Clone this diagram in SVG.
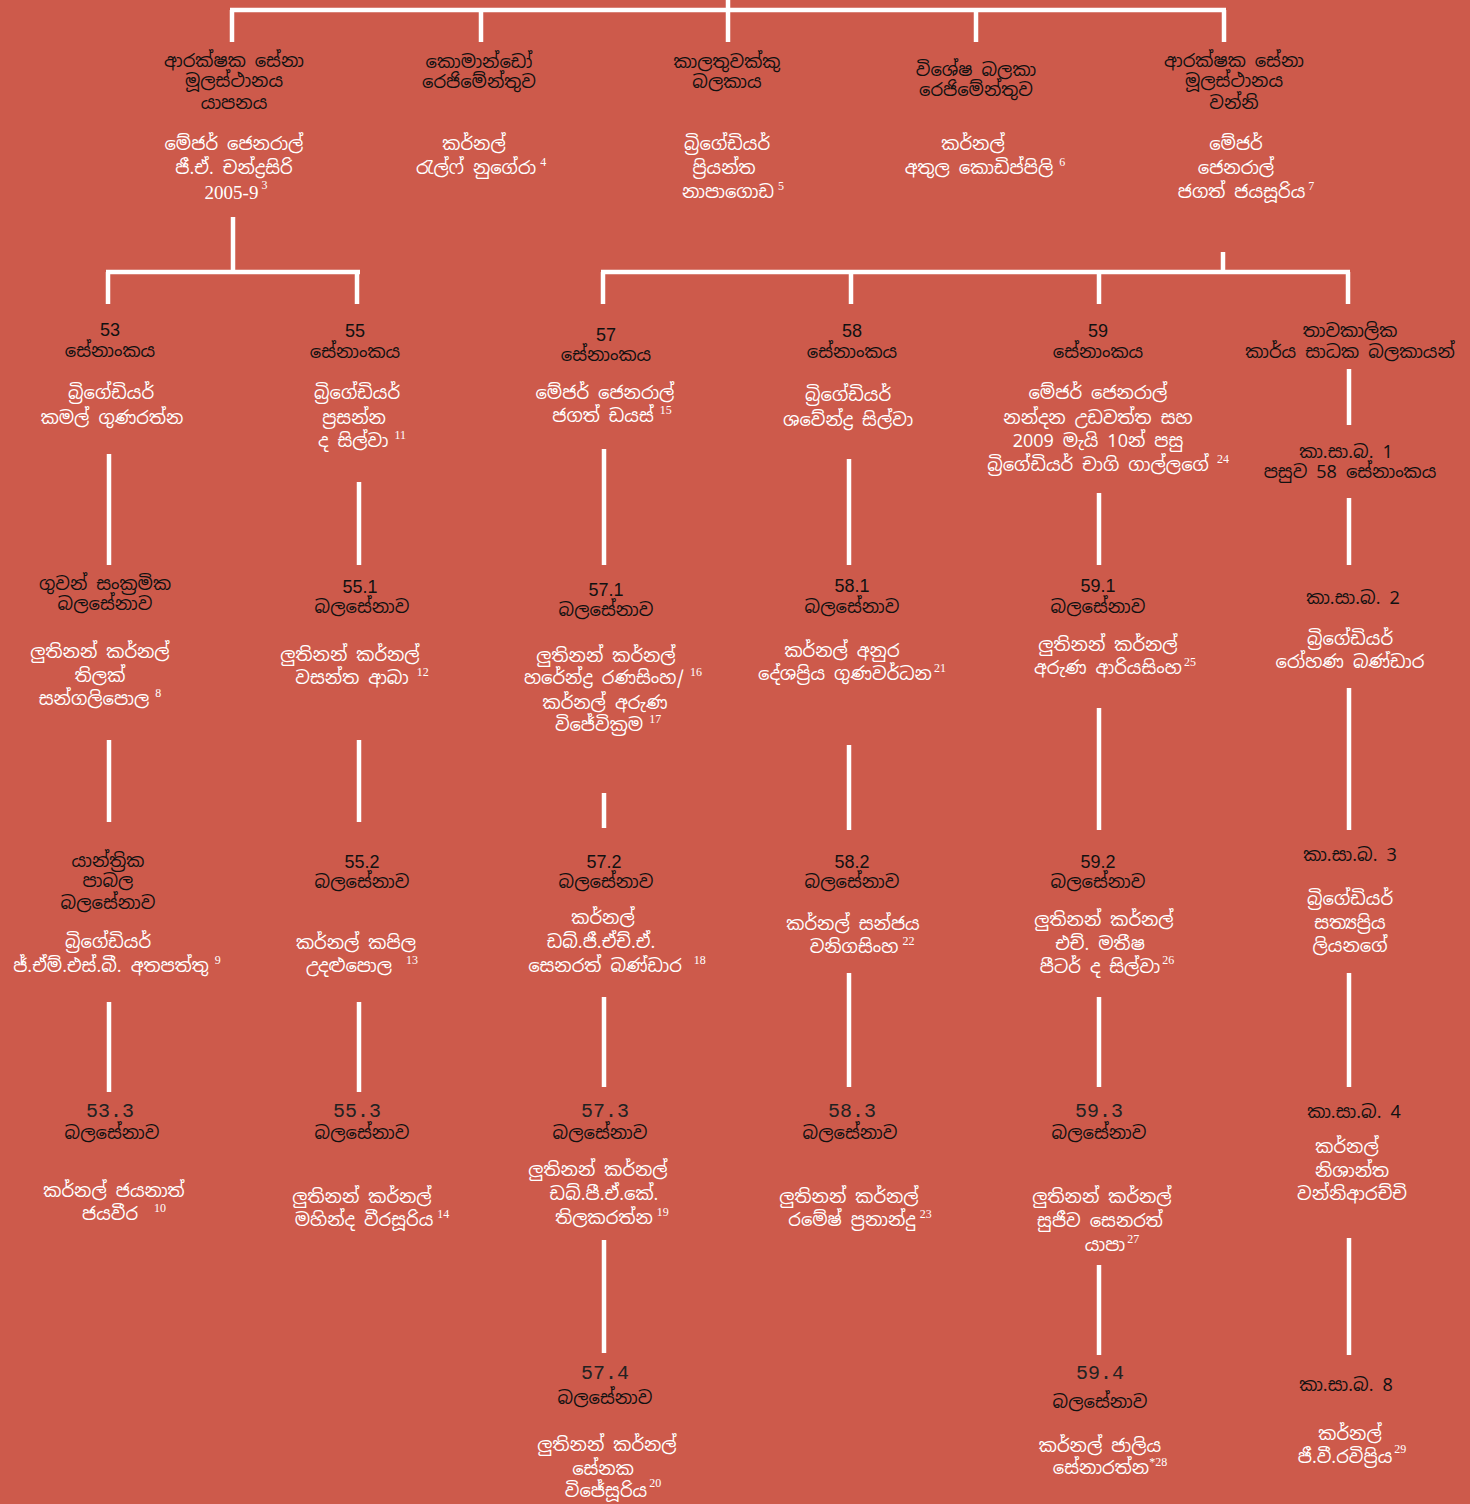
<svg xmlns="http://www.w3.org/2000/svg" width="1470" height="1504" viewBox="0 0 1470 1504">
<style>
text{text-anchor:middle;font-family:"Noto Sans Sinhala","Noto Sans","DejaVu Sans",sans-serif;font-size:18px}
.b{fill:#111}
.w{fill:#fff}
.n{fill:#111;font-family:"Liberation Sans",Arial,sans-serif;font-size:18px}
.m{fill:#222;font-family:"Liberation Mono","DejaVu Sans Mono",monospace;font-size:20px}
.y{fill:#fff;font-family:"Liberation Serif","Times New Roman",serif;font-size:19px}
.s{font-family:"Liberation Serif","Times New Roman",serif;font-size:12px}
#conn line{stroke:#fff;stroke-width:4.5;fill:none}
</style>
<rect width="1470" height="1504" fill="#cd5a4b"/>
<g id="conn">
<line x1="728" y1="0" x2="728" y2="10"/>
<line x1="230" y1="10" x2="1226" y2="10"/>
<line x1="232" y1="10" x2="232" y2="42"/>
<line x1="481" y1="10" x2="481" y2="42"/>
<line x1="728" y1="10" x2="728" y2="42"/>
<line x1="976" y1="10" x2="976" y2="42"/>
<line x1="1224" y1="10" x2="1224" y2="42"/>
<line x1="233" y1="217" x2="233" y2="272"/>
<line x1="106" y1="272" x2="360" y2="272"/>
<line x1="108" y1="272" x2="108" y2="304"/>
<line x1="357" y1="272" x2="357" y2="304"/>
<line x1="1223" y1="252" x2="1223" y2="272"/>
<line x1="601" y1="272" x2="1350" y2="272"/>
<line x1="603" y1="272" x2="603" y2="304"/>
<line x1="851" y1="272" x2="851" y2="304"/>
<line x1="1099" y1="272" x2="1099" y2="304"/>
<line x1="1348" y1="272" x2="1348" y2="304"/>
<line x1="109" y1="454" x2="109" y2="565"/>
<line x1="109" y1="740" x2="109" y2="822"/>
<line x1="109" y1="1002" x2="109" y2="1092"/>
<line x1="359" y1="482" x2="359" y2="565"/>
<line x1="359" y1="740" x2="359" y2="822"/>
<line x1="359" y1="1002" x2="359" y2="1092"/>
<line x1="604" y1="449" x2="604" y2="565"/>
<line x1="604" y1="793" x2="604" y2="828"/>
<line x1="604" y1="997" x2="604" y2="1087"/>
<line x1="604" y1="1240" x2="604" y2="1353"/>
<line x1="849" y1="459" x2="849" y2="565"/>
<line x1="849" y1="745" x2="849" y2="830"/>
<line x1="849" y1="973" x2="849" y2="1087"/>
<line x1="1099" y1="493" x2="1099" y2="565"/>
<line x1="1099" y1="708" x2="1099" y2="830"/>
<line x1="1099" y1="997" x2="1099" y2="1087"/>
<line x1="1099" y1="1265" x2="1099" y2="1355"/>
<line x1="1349" y1="369" x2="1349" y2="425"/>
<line x1="1349" y1="498" x2="1349" y2="565"/>
<line x1="1349" y1="688" x2="1349" y2="830"/>
<line x1="1349" y1="973" x2="1349" y2="1087"/>
<line x1="1349" y1="1238" x2="1349" y2="1355"/>
</g>

<g id="hq-jaffna">
<text class="b"><tspan x="234" y="67">ආරක්ෂක සේනා</tspan><tspan x="234" y="87">මූලස්ථානය</tspan><tspan x="234" y="109">යාපනය</tspan></text>
<text class="w"><tspan x="234" y="150">මේජර් ජෙනරාල්</tspan><tspan x="234" y="174">ජී.ඒ. චන්ද්‍රසිරි</tspan></text>
<text class="y" x="236" y="199">2005-9<tspan class="s" dx="3" dy="-10">3</tspan></text>
</g>
<g id="commando">
<text class="b"><tspan x="479" y="68">කොමාන්ඩෝ</tspan><tspan x="479" y="88">රෙජිමේන්තුව</tspan></text>
<text class="w"><tspan x="474" y="150">කර්නල්</tspan><tspan x="481" y="174">රැල්ෆ් නුගේරා<tspan class="s" dx="4" dy="-8">4</tspan></tspan></text>
</g>
<g id="artillery">
<text class="b"><tspan x="727" y="68">කාලතුවක්කු</tspan><tspan x="727" y="88">බලකාය</tspan></text>
<text class="w"><tspan x="727" y="150">බ්‍රිගේඩියර්</tspan><tspan x="724" y="174">ප්‍රියන්ත</tspan><tspan x="733" y="198">නාපාගොඩ<tspan class="s" dx="4" dy="-8">5</tspan></tspan></text>
</g>
<g id="special-forces">
<text class="b"><tspan x="976" y="76">විශේෂ බලකා</tspan><tspan x="976" y="96">රෙජිමේන්තුව</tspan></text>
<text class="w"><tspan x="973" y="150">කර්නල්</tspan><tspan x="985" y="174">අතුල කොඩිප්පිලි<tspan class="s" dx="6" dy="-8">6</tspan></tspan></text>
</g>
<g id="hq-wanni">
<text class="b"><tspan x="1234" y="67">ආරක්ෂක සේනා</tspan><tspan x="1234" y="87">මූලස්ථානය</tspan><tspan x="1234" y="109">වන්නි</tspan></text>
<text class="w"><tspan x="1236" y="150">මේජර්</tspan><tspan x="1236" y="174">ජෙනරාල්</tspan><tspan x="1246" y="198">ජගත් ජයසූරිය<tspan class="s" dx="3" dy="-8">7</tspan></tspan></text>
</g>

<g id="div53">
<text class="n" x="110" y="336">53</text>
<text class="b" x="110" y="357">සේනාංකය</text>
<text class="w"><tspan x="111" y="399">බ්‍රිගේඩියර්</tspan><tspan x="112" y="424">කමල් ගුණරත්න</tspan></text>
</g>
<g id="div55">
<text class="n" x="355" y="337">55</text>
<text class="b" x="355" y="358">සේනාංකය</text>
<text class="w"><tspan x="357" y="399">බ්‍රිගේඩියර්</tspan><tspan x="354" y="424">ප්‍රසන්න</tspan><tspan x="362" y="447">ද සිල්වා<tspan class="s" dx="6" dy="-8">11</tspan></tspan></text>
</g>
<g id="div57">
<text class="n" x="606" y="341">57</text>
<text class="b" x="606" y="361">සේනාංකය</text>
<text class="w"><tspan x="605" y="399">මේජර් ජෙනරාල්</tspan><tspan x="612" y="422">ජගත් ඩයස්<tspan class="s" dx="6" dy="-8">15</tspan></tspan></text>
</g>
<g id="div58">
<text class="n" x="852" y="337">58</text>
<text class="b" x="852" y="358">සේනාංකය</text>
<text class="w"><tspan x="848" y="401">බ්‍රිගේඩියර්</tspan><tspan x="848" y="426">ශවේන්ද්‍ර සිල්වා</tspan></text>
</g>
<g id="div59">
<text class="n" x="1098" y="337">59</text>
<text class="b" x="1098" y="358">සේනාංකය</text>
<text class="w"><tspan x="1098" y="399">මේජර් ජෙනරාල්</tspan><tspan x="1098" y="424">නන්දන උඩවත්ත සහ</tspan><tspan x="1098" y="447">2009 මැයි 10න් පසු</tspan><tspan x="1108" y="471">බ්‍රිගේඩියර් චාගි ගාල්ලගේ<tspan class="s" dx="8" dy="-8">24</tspan></tspan></text>
</g>
<g id="task-forces">
<text class="b"><tspan x="1350" y="337">තාවකාලික</tspan><tspan x="1350" y="358">කාර්ය සාධක බලකායන්</tspan></text>
</g>
<g id="tf1">
<text class="b"><tspan x="1346" y="458">කා.සා.බ. 1</tspan><tspan x="1350" y="478">පසුව 58 සේනාංකය</tspan></text>
</g>

<g id="bde-air">
<text class="b"><tspan x="105" y="590">ගුවන් සංක්‍රමික</tspan><tspan x="105" y="610">බලසේනාව</tspan></text>
<text class="w"><tspan x="100" y="658">ලුතිනන් කර්නල්</tspan><tspan x="100" y="682">තිලක්</tspan><tspan x="100" y="705">සන්ගලිපොල<tspan class="s" dx="6" dy="-8">8</tspan></tspan></text>
</g>
<g id="bde551">
<text class="n" x="360" y="593">55.1</text>
<text class="b" x="362" y="613">බලසේනාව</text>
<text class="w"><tspan x="350" y="661">ලුතිනන් කර්නල්</tspan><tspan x="362" y="684">වසන්ත ආබා<tspan class="s" dx="8" dy="-8">12</tspan></tspan></text>
</g>
<g id="bde571">
<text class="n" x="606" y="596">57.1</text>
<text class="b" x="606" y="616">බලසේනාව</text>
<text class="w"><tspan x="606" y="662">ලුතිනන් කර්නල්</tspan><tspan x="613" y="684">හරේන්ද්‍ර රණසිංහ/<tspan class="s" dx="6" dy="-8">16</tspan></tspan><tspan x="605" y="709">කර්නල් අරුණ</tspan><tspan x="608" y="731">විජේවික්‍රම<tspan class="s" dx="6" dy="-8">17</tspan></tspan></text>
</g>
<g id="bde581">
<text class="n" x="852" y="592">58.1</text>
<text class="b" x="852" y="613">බලසේනාව</text>
<text class="w"><tspan x="842" y="657">කර්නල් අනුර</tspan><tspan x="852" y="680">දේශප්‍රිය ගුණවර්ධන<tspan class="s" dx="2" dy="-8">21</tspan></tspan></text>
</g>
<g id="bde591">
<text class="n" x="1098" y="592">59.1</text>
<text class="b" x="1098" y="613">බලසේනාව</text>
<text class="w"><tspan x="1108" y="651">ලුතිනන් කර්නල්</tspan><tspan x="1115" y="674">අරුණ ආරියසිංහ<tspan class="s" dx="2" dy="-8">25</tspan></tspan></text>
</g>
<g id="tf2">
<text class="b" x="1353" y="604">කා.සා.බ. 2</text>
<text class="w"><tspan x="1350" y="645">බ්‍රිගේඩියර්</tspan><tspan x="1350" y="668">රෝහණ බණ්ඩාර</tspan></text>
</g>

<g id="bde-mech">
<text class="b"><tspan x="108" y="867">යාන්ත්‍රික</tspan><tspan x="108" y="887">පාබල</tspan><tspan x="108" y="909">බලසේනාව</tspan></text>
<text class="w"><tspan x="108" y="948">බ්‍රිගේඩියර්</tspan><tspan x="117" y="972">ජ්.ඒම්.එස්.බී. අතපත්තු<tspan class="s" dx="6" dy="-8">9</tspan></tspan></text>
</g>
<g id="bde552">
<text class="n" x="362" y="868">55.2</text>
<text class="b" x="362" y="888">බලසේනාව</text>
<text class="w"><tspan x="356" y="949">කර්නල් කපිල</tspan><tspan x="362" y="972">උදළුපොල<tspan class="s" dx="14" dy="-8">13</tspan></tspan></text>
</g>
<g id="bde572">
<text class="n" x="604" y="868">57.2</text>
<text class="b" x="606" y="888">බලසේනාව</text>
<text class="w"><tspan x="603" y="924">කර්නල්</tspan><tspan x="601" y="948">ඩබ්.ජී.ඒච්.ඒ.</tspan><tspan x="617" y="972">සෙනරත් බණ්ඩාර<tspan class="s" dx="12" dy="-8">18</tspan></tspan></text>
</g>
<g id="bde582">
<text class="n" x="852" y="868">58.2</text>
<text class="b" x="852" y="888">බලසේනාව</text>
<text class="w"><tspan x="853" y="930">කර්නල් සන්ජය</tspan><tspan x="862" y="953">වනිගසිංහ<tspan class="s" dx="4" dy="-8">22</tspan></tspan></text>
</g>
<g id="bde592">
<text class="n" x="1098" y="868">59.2</text>
<text class="b" x="1098" y="888">බලසේනාව</text>
<text class="w"><tspan x="1104" y="926">ලුතිනන් කර්නල්</tspan><tspan x="1100" y="950">එච්. මතීෂ</tspan><tspan x="1107" y="973">පීටර් ද සිල්වා<tspan class="s" dx="2" dy="-9">26</tspan></tspan></text>
</g>
<g id="tf3">
<text class="b" x="1350" y="861">කා.සා.බ. 3</text>
<text class="w"><tspan x="1350" y="905">බ්‍රිගේඩියර්</tspan><tspan x="1350" y="929">සත්‍යප්‍රිය</tspan><tspan x="1350" y="952">ලියනගේ</tspan></text>
</g>

<g id="bde533">
<text class="m" x="110" y="1117">53.3</text>
<text class="b" x="112" y="1139">බලසේනාව</text>
<text class="w"><tspan x="114" y="1197">කර්නල් ජයනාත්</tspan><tspan x="124" y="1220">ජයවීර<tspan class="s" dx="16" dy="-8">10</tspan></tspan></text>
</g>
<g id="bde553">
<text class="m" x="357" y="1117">55.3</text>
<text class="b" x="362" y="1139">බලසේනාව</text>
<text class="w"><tspan x="362" y="1203">ලුතිනන් කර්නල්</tspan><tspan x="372" y="1226">මහින්ද වීරසූරිය<tspan class="s" dx="4" dy="-8">14</tspan></tspan></text>
</g>
<g id="bde573">
<text class="m" x="605" y="1117">57.3</text>
<text class="b" x="600" y="1139">බලසේනාව</text>
<text class="w"><tspan x="598" y="1176">ලුතිනන් කර්නල්</tspan><tspan x="604" y="1200">ඩබ්.පී.ඒ.කේ.</tspan><tspan x="612" y="1224">තිලකරත්න<tspan class="s" dx="4" dy="-8">19</tspan></tspan></text>
</g>
<g id="bde583">
<text class="m" x="852" y="1117">58.3</text>
<text class="b" x="850" y="1139">බලසේනාව</text>
<text class="w"><tspan x="849" y="1203">ලුතිනන් කර්නල්</tspan><tspan x="860" y="1226">රමේෂ් ප්‍රනාන්දු<tspan class="s" dx="4" dy="-8">23</tspan></tspan></text>
</g>
<g id="bde593">
<text class="m" x="1099" y="1117">59.3</text>
<text class="b" x="1099" y="1139">බලසේනාව</text>
<text class="w"><tspan x="1102" y="1203">ලුතිනන් කර්නල්</tspan><tspan x="1100" y="1227">සුජීව සෙනරත්</tspan><tspan x="1112" y="1251">යාපා<tspan class="s" dx="2" dy="-8">27</tspan></tspan></text>
</g>
<g id="tf4">
<text class="b" x="1354" y="1118">කා.සා.බ. 4</text>
<text class="w"><tspan x="1347" y="1153">කර්නල්</tspan><tspan x="1352" y="1177">නිශාන්ත</tspan><tspan x="1352" y="1200">වන්නිආරච්චි</tspan></text>
</g>

<g id="bde574">
<text class="m" x="605" y="1379">57.4</text>
<text class="b" x="605" y="1404">බලසේනාව</text>
<text class="w"><tspan x="607" y="1451">ලුතිනන් කර්නල්</tspan><tspan x="603" y="1475">සේනක</tspan><tspan x="613" y="1497">විජේසූරිය<tspan class="s" dx="2" dy="-10">20</tspan></tspan></text>
</g>
<g id="bde594">
<text class="m" x="1100" y="1379">59.4</text>
<text class="b" x="1100" y="1408">බලසේනාව</text>
<text class="w"><tspan x="1100" y="1452">කර්නල් ජාලිය</tspan><tspan x="1110" y="1474">සේනාරත්න<tspan class="s" dx="0" dy="-8">*28</tspan></tspan></text>
</g>
<g id="tf8">
<text class="b" x="1346" y="1391">කා.සා.බ. 8</text>
<text class="w"><tspan x="1350" y="1440">කර්නල්</tspan><tspan x="1352" y="1463">ජී.වී.රවිප්‍රිය<tspan class="s" dx="2" dy="-10">29</tspan></tspan></text>
</g>
</svg>
